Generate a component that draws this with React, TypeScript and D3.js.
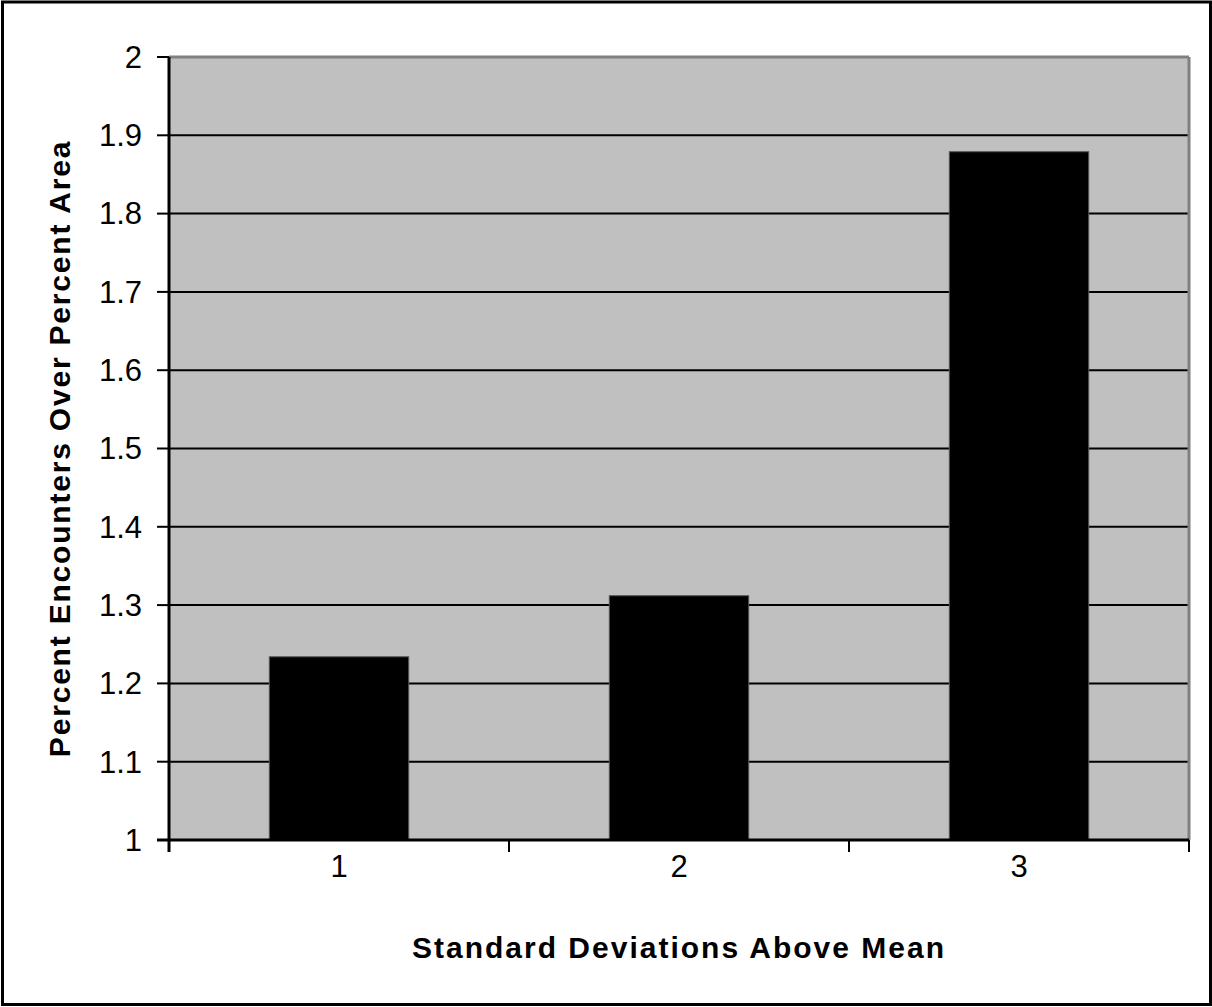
import * as d3 from "d3";

const categories = ["1", "2", "3"];
const values = [1.234, 1.312, 1.879];
const yTicks = [1, 1.1, 1.2, 1.3, 1.4, 1.5, 1.6, 1.7, 1.8, 1.9, 2];

const App = () => {
  const width = 1212;
  const height = 1007;
  const margin = { top: 57, right: 23, bottom: 167, left: 169 };
  const innerWidth = width - margin.left - margin.right;
  const innerHeight = height - margin.top - margin.bottom;

  const xScale = d3.scaleBand().domain(categories).range([0, innerWidth]).paddingInner(0.59).paddingOuter(0.295);
  const xOuter = d3.scaleBand().domain(categories).range([0, innerWidth]);
  const yScale = d3.scaleLinear().domain([1, 2]).range([innerHeight, 0]);

  const font = "'Liberation Sans', Arial, sans-serif";

  return (
    <svg width={width} height={height} style={{ position: "absolute", left: 0, top: 0 }} fontFamily={font}>
      <rect x={2.5} y={2} width={1208} height={1002.5} fill="#fff" stroke="#000" strokeWidth={3} />
      <g transform={`translate(${margin.left}, ${margin.top})`}>
        <rect x={0} y={0} width={innerWidth} height={innerHeight} fill="#c0c0c0" />
        {yTicks.map((t) => (
          <g key={t}>
            {t > 1 && t < 2 && (
              <line x1={0} x2={innerWidth} y1={yScale(t)} y2={yScale(t)} stroke="#000" strokeWidth={2} />
            )}
            <line x1={-12} x2={0} y1={yScale(t)} y2={yScale(t)} stroke="#000" strokeWidth={2} />
            <text x={-27} y={yScale(t)} dy="0.35em" textAnchor="end" fontSize={31}>
              {d3.format("")(t)}
            </text>
          </g>
        ))}
        <line x1={0} x2={innerWidth} y1={0} y2={0} stroke="#808080" strokeWidth={3} />
        <line x1={innerWidth} x2={innerWidth} y1={0} y2={innerHeight} stroke="#808080" strokeWidth={3} />
        {categories.map((c, i) => (
          <rect
            key={c}
            x={xScale(c)}
            y={yScale(values[i])}
            width={xScale.bandwidth()}
            height={innerHeight - yScale(values[i])}
            fill="#000"
            stroke="#555"
            strokeWidth={1}
          />
        ))}
        <line x1={0} x2={0} y1={0} y2={innerHeight + 12} stroke="#000" strokeWidth={3} />
        <line x1={-12} x2={innerWidth} y1={innerHeight} y2={innerHeight} stroke="#000" strokeWidth={3} />
        {categories.map((c) => (
          <line
            key={"t" + c}
            x1={xOuter(c)! + xOuter.bandwidth()}
            x2={xOuter(c)! + xOuter.bandwidth()}
            y1={innerHeight}
            y2={innerHeight + 12}
            stroke="#000"
            strokeWidth={2}
          />
        ))}
        {categories.map((c) => (
          <text
            key={"l" + c}
            x={xOuter(c)! + xOuter.bandwidth() / 2}
            y={innerHeight + 26}
            dy="0.35em"
            textAnchor="middle"
            fontSize={31}
          >
            {c}
          </text>
        ))}
        <text
          x={innerWidth / 2}
          y={innerHeight + 107}
          dy="0.35em"
          textAnchor="middle"
          fontSize={30}
          fontWeight="bold"
          letterSpacing={2}
        >
          Standard Deviations Above Mean
        </text>
        <text
          transform={`translate(${-110}, ${innerHeight / 2}) rotate(-90)`}
          dy="0.35em"
          textAnchor="middle"
          fontSize={30}
          fontWeight="bold"
          letterSpacing={1.8}
        >
          Percent Encounters Over Percent Area
        </text>
      </g>
    </svg>
  );
};

export default App;
